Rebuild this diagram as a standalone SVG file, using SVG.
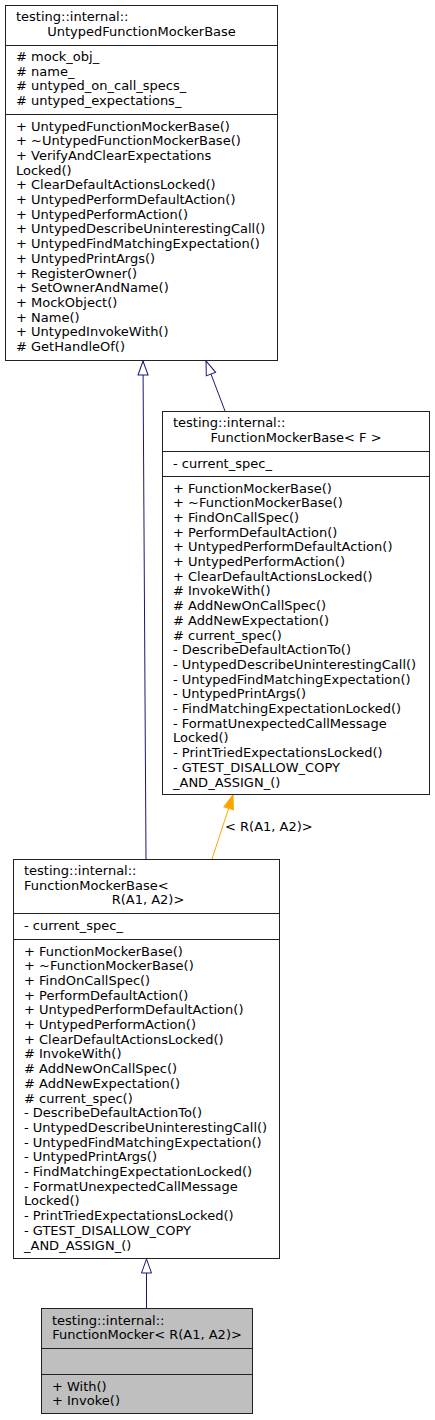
<svg xmlns="http://www.w3.org/2000/svg" width="435" height="1420" viewBox="0 0 435 1420">
<style>
.box{fill:#fff;stroke:#222;stroke-width:1}
.cur{fill:#bfbfbf;stroke:#222;stroke-width:1}
.sep{stroke:#222;stroke-width:1}
text{font-family:"DejaVu Sans","Liberation Sans",sans-serif;font-size:13px;fill:#000}
.mid{text-anchor:middle}
.blue{stroke:#191970;stroke-width:1;fill:none}
.orange{stroke:#ffa500;stroke-width:1;fill:none}
</style>
<defs>
<marker id="hollow" markerUnits="userSpaceOnUse" markerWidth="16" markerHeight="12" viewBox="0 0 16 12" refX="15" refY="6" orient="auto">
<path d="M1,1 L15,6 L1,11 z" fill="#fff" stroke="#191970" stroke-width="1"/>
</marker>
<marker id="filled" markerUnits="userSpaceOnUse" markerWidth="16" markerHeight="12" viewBox="0 0 16 12" refX="15" refY="6" orient="auto">
<path d="M1,1 L15,6 L1,11 z" fill="#ffa500" stroke="#ffa500" stroke-width="1"/>
</marker>
</defs>

<g id="connectors">
<line class="blue" x1="146" y1="859" x2="143" y2="361" marker-end="url(#hollow)"/>
<line class="blue" x1="225" y1="411" x2="206" y2="361" marker-end="url(#hollow)"/>
<line class="orange" x1="212" y1="859" x2="233" y2="795" marker-end="url(#filled)"/>
<text x="225" y="831">&lt; R(A1, A2)&gt;</text>
<line class="blue" x1="146.5" y1="1308" x2="146.5" y2="1259" marker-end="url(#hollow)"/>
</g>

<g id="node-untyped">
<rect class="box" x="5.5" y="5.5" width="272" height="355"/>
<line class="sep" x1="5.5" y1="45.5" x2="277.5" y2="45.5"/>
<line class="sep" x1="5.5" y1="114.5" x2="277.5" y2="114.5"/>
<text x="16" y="21">testing::internal::</text>
<text class="mid" x="141.5" y="35.7">UntypedFunctionMockerBase</text>
<text x="16" y="61">
<tspan x="16" dy="0"># mock_obj_</tspan>
<tspan x="16" dy="14.7"># name_</tspan>
<tspan x="16" dy="14.7"># untyped_on_call_specs_</tspan>
<tspan x="16" dy="14.7"># untyped_expectations_</tspan>
</text>
<text x="16" y="130.5">
<tspan x="16" dy="0">+ UntypedFunctionMockerBase()</tspan>
<tspan x="16" dy="14.7">+ ~UntypedFunctionMockerBase()</tspan>
<tspan x="16" dy="14.7">+ VerifyAndClearExpectations</tspan>
<tspan x="16" dy="14.7">Locked()</tspan>
<tspan x="16" dy="14.7">+ ClearDefaultActionsLocked()</tspan>
<tspan x="16" dy="14.7">+ UntypedPerformDefaultAction()</tspan>
<tspan x="16" dy="14.7">+ UntypedPerformAction()</tspan>
<tspan x="16" dy="14.7">+ UntypedDescribeUninterestingCall()</tspan>
<tspan x="16" dy="14.7">+ UntypedFindMatchingExpectation()</tspan>
<tspan x="16" dy="14.7">+ UntypedPrintArgs()</tspan>
<tspan x="16" dy="14.7">+ RegisterOwner()</tspan>
<tspan x="16" dy="14.7">+ SetOwnerAndName()</tspan>
<tspan x="16" dy="14.7">+ MockObject()</tspan>
<tspan x="16" dy="14.7">+ Name()</tspan>
<tspan x="16" dy="14.7">+ UntypedInvokeWith()</tspan>
<tspan x="16" dy="14.7"># GetHandleOf()</tspan>
</text>
</g>

<g id="node-fmb-f">
<rect class="box" x="162.5" y="411.5" width="267" height="383"/>
<line class="sep" x1="162.5" y1="451.5" x2="429.5" y2="451.5"/>
<line class="sep" x1="162.5" y1="476.5" x2="429.5" y2="476.5"/>
<text x="173" y="427">testing::internal::</text>
<text class="mid" x="296" y="441.7">FunctionMockerBase&lt; F &gt;</text>
<text x="173" y="467.5">- current_spec_</text>
<text x="173" y="492.5">
<tspan x="173" dy="0">+ FunctionMockerBase()</tspan>
<tspan x="173" dy="14.7">+ ~FunctionMockerBase()</tspan>
<tspan x="173" dy="14.7">+ FindOnCallSpec()</tspan>
<tspan x="173" dy="14.7">+ PerformDefaultAction()</tspan>
<tspan x="173" dy="14.7">+ UntypedPerformDefaultAction()</tspan>
<tspan x="173" dy="14.7">+ UntypedPerformAction()</tspan>
<tspan x="173" dy="14.7">+ ClearDefaultActionsLocked()</tspan>
<tspan x="173" dy="14.7"># InvokeWith()</tspan>
<tspan x="173" dy="14.7"># AddNewOnCallSpec()</tspan>
<tspan x="173" dy="14.7"># AddNewExpectation()</tspan>
<tspan x="173" dy="14.7"># current_spec()</tspan>
<tspan x="173" dy="14.7">- DescribeDefaultActionTo()</tspan>
<tspan x="173" dy="14.7">- UntypedDescribeUninterestingCall()</tspan>
<tspan x="173" dy="14.7">- UntypedFindMatchingExpectation()</tspan>
<tspan x="173" dy="14.7">- UntypedPrintArgs()</tspan>
<tspan x="173" dy="14.7">- FindMatchingExpectationLocked()</tspan>
<tspan x="173" dy="14.7">- FormatUnexpectedCallMessage</tspan>
<tspan x="173" dy="14.7">Locked()</tspan>
<tspan x="173" dy="14.7">- PrintTriedExpectationsLocked()</tspan>
<tspan x="173" dy="14.7">- GTEST_DISALLOW_COPY</tspan>
<tspan x="173" dy="14.7">_AND_ASSIGN_()</tspan>
</text>
</g>

<g id="node-fmb-r">
<rect class="box" x="13.5" y="859.5" width="266" height="399"/>
<line class="sep" x1="13.5" y1="913.5" x2="279.5" y2="913.5"/>
<line class="sep" x1="13.5" y1="939.5" x2="279.5" y2="939.5"/>
<text x="24" y="875">
<tspan x="24" dy="0">testing::internal::</tspan>
<tspan x="24" dy="14.7">FunctionMockerBase&lt;</tspan>
</text>
<text class="mid" x="148" y="904.4">R(A1, A2)&gt;</text>
<text x="24" y="929.5">- current_spec_</text>
<text x="24" y="955.5">
<tspan x="24" dy="0">+ FunctionMockerBase()</tspan>
<tspan x="24" dy="14.7">+ ~FunctionMockerBase()</tspan>
<tspan x="24" dy="14.7">+ FindOnCallSpec()</tspan>
<tspan x="24" dy="14.7">+ PerformDefaultAction()</tspan>
<tspan x="24" dy="14.7">+ UntypedPerformDefaultAction()</tspan>
<tspan x="24" dy="14.7">+ UntypedPerformAction()</tspan>
<tspan x="24" dy="14.7">+ ClearDefaultActionsLocked()</tspan>
<tspan x="24" dy="14.7"># InvokeWith()</tspan>
<tspan x="24" dy="14.7"># AddNewOnCallSpec()</tspan>
<tspan x="24" dy="14.7"># AddNewExpectation()</tspan>
<tspan x="24" dy="14.7"># current_spec()</tspan>
<tspan x="24" dy="14.7">- DescribeDefaultActionTo()</tspan>
<tspan x="24" dy="14.7">- UntypedDescribeUninterestingCall()</tspan>
<tspan x="24" dy="14.7">- UntypedFindMatchingExpectation()</tspan>
<tspan x="24" dy="14.7">- UntypedPrintArgs()</tspan>
<tspan x="24" dy="14.7">- FindMatchingExpectationLocked()</tspan>
<tspan x="24" dy="14.7">- FormatUnexpectedCallMessage</tspan>
<tspan x="24" dy="14.7">Locked()</tspan>
<tspan x="24" dy="14.7">- PrintTriedExpectationsLocked()</tspan>
<tspan x="24" dy="14.7">- GTEST_DISALLOW_COPY</tspan>
<tspan x="24" dy="14.7">_AND_ASSIGN_()</tspan>
</text>
</g>

<g id="node-fm">
<rect class="cur" x="41.5" y="1308.5" width="211" height="105"/>
<line class="sep" x1="41.5" y1="1348.5" x2="252.5" y2="1348.5"/>
<line class="sep" x1="41.5" y1="1374.5" x2="252.5" y2="1374.5"/>
<text x="52" y="1324.5">testing::internal::</text>
<text class="mid" x="147" y="1339.2">FunctionMocker&lt; R(A1, A2)&gt;</text>
<text x="52" y="1390.5">
<tspan x="52" dy="0">+ With()</tspan>
<tspan x="52" dy="14.7">+ Invoke()</tspan>
</text>
</g>
</svg>
